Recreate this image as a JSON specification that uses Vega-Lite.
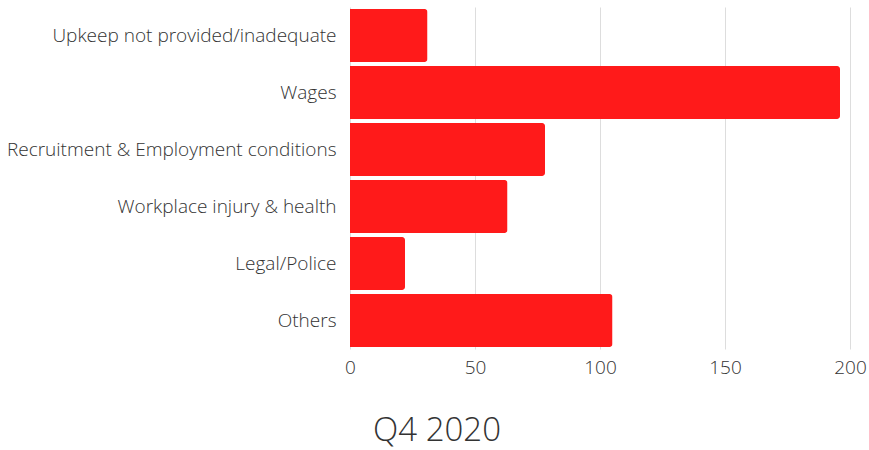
{
  "$schema": "https://vega.github.io/schema/vega-lite/v6.json",
  "autosize": "none",
  "width": 500,
  "height": 342,
  "padding": {"left": 350, "top": 7, "right": 19, "bottom": 101},
  "background": "white",
  "title": {"text": "Q4 2020", "orient": "bottom", "fontSize": 33, "font": "Open Sans", "fontWeight": 300, "color": "#333333", "offset": 38, "anchor": "middle", "dx": -163},
  "data": {"values": [
    {"category": "Upkeep not provided/inadequate", "count": 31},
    {"category": "Wages", "count": 196},
    {"category": "Recruitment & Employment conditions", "count": 78},
    {"category": "Workplace injury & health", "count": 63},
    {"category": "Legal/Police", "count": 22},
    {"category": "Others", "count": 105}
  ]},
  "mark": {"type": "bar", "color": "#ff1a1a", "cornerRadiusEnd": 3},
  "encoding": {
    "y": {"field": "category", "type": "nominal", "sort": null,
      "scale": {"paddingInner": 0.07, "paddingOuter": 0.035},
      "axis": {"title": null, "ticks": false, "domain": false, "labelFont": "Open Sans", "labelFontWeight": 300, "labelFontSize": 19, "labelColor": "#333333", "labelPadding": 14, "labelLimit": 400}},
    "x": {"field": "count", "type": "quantitative",
      "scale": {"domain": [0, 200]},
      "axis": {"title": null, "values": [0, 50, 100, 150, 200], "ticks": false, "domain": false, "gridColor": "#dddddd", "labelFlush": false, "labelFont": "Open Sans", "labelFontWeight": 300, "labelFontSize": 19, "labelColor": "#333333", "labelPadding": 9}}
  },
  "config": {"view": {"stroke": null}}
}
